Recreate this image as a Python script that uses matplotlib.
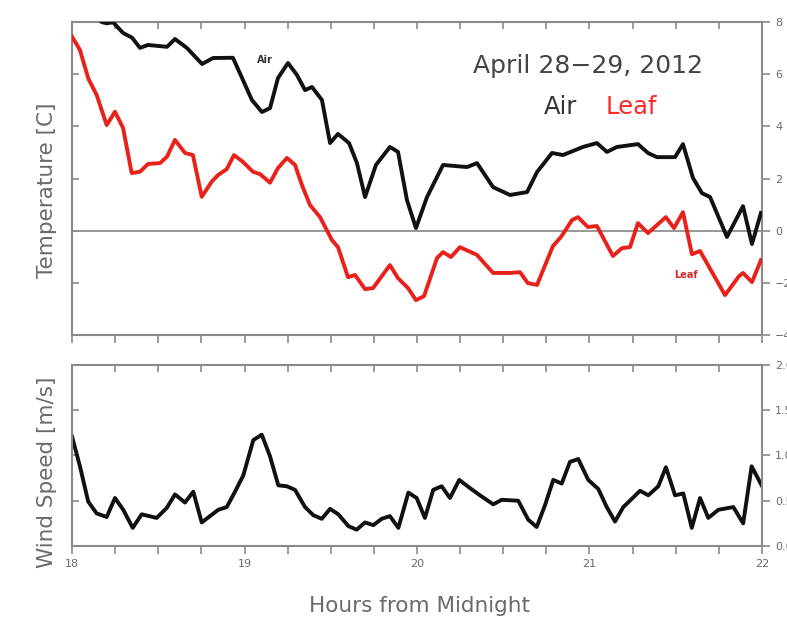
import numpy as np
import matplotlib
matplotlib.use('Agg')
import matplotlib.pyplot as plt
from matplotlib.ticker import MultipleLocator, FuncFormatter

# ---- data ----
air_hours = [18.00, 18.10, 18.172, 18.201, 18.238, 18.296, 18.348, 18.394, 18.441, 18.551,
             18.597, 18.667, 18.754, 18.817, 18.933, 18.986, 19.043, 19.101, 19.148, 19.194,
             19.252, 19.304, 19.351, 19.391, 19.449, 19.496, 19.542, 19.606, 19.652, 19.699,
             19.762, 19.843, 19.890, 19.942, 19.994, 20.058, 20.151, 20.290, 20.348, 20.441,
             20.539, 20.638, 20.696, 20.783, 20.846, 20.962, 21.043, 21.101, 21.159, 21.281,
             21.339, 21.391, 21.496, 21.542, 21.600, 21.652, 21.699, 21.797, 21.890, 21.942,
             21.994]
air_temp = [8.9, 8.4, 8.0, 7.95, 7.99, 7.58, 7.40, 7.01, 7.12, 7.05,
            7.35, 7.00, 6.39, 6.62, 6.63, 5.85, 5.01, 4.55, 4.70, 5.85,
            6.43, 5.97, 5.39, 5.51, 5.01, 3.36, 3.71, 3.36, 2.59, 1.29,
            2.52, 3.21, 3.02, 1.17, 0.10, 1.29, 2.52, 2.44, 2.59, 1.67,
            1.37, 1.48, 2.25, 2.98, 2.90, 3.21, 3.36, 3.02, 3.21, 3.32,
            2.98, 2.82, 2.82, 3.32, 2.02, 1.44, 1.29, -0.24, 0.94, -0.51,
            0.68]

leaf_hours = [18.00, 18.046, 18.094, 18.143, 18.201, 18.249, 18.296, 18.346, 18.394, 18.441,
              18.510, 18.551, 18.597, 18.655, 18.701, 18.752, 18.810, 18.846, 18.897, 18.939,
              18.991, 19.049, 19.090, 19.148, 19.194, 19.246, 19.293, 19.333, 19.380, 19.438,
              19.507, 19.542, 19.600, 19.641, 19.699, 19.745, 19.843, 19.890, 19.948, 19.994,
              20.041, 20.116, 20.151, 20.197, 20.249, 20.348, 20.441, 20.539, 20.597, 20.643,
              20.696, 20.788, 20.835, 20.899, 20.933, 20.991, 21.043, 21.136, 21.188, 21.235,
              21.281, 21.339, 21.443, 21.490, 21.542, 21.594, 21.641, 21.786, 21.867, 21.890,
              21.942, 21.994]
leaf_temp = [7.44, 6.93, 5.84, 5.20, 4.05, 4.56, 3.94, 2.21, 2.26, 2.56,
             2.59, 2.84, 3.48, 2.98, 2.90, 1.30, 1.88, 2.13, 2.36, 2.90,
             2.64, 2.26, 2.17, 1.84, 2.40, 2.79, 2.52, 1.75, 0.98, 0.52,
             -0.36, -0.63, -1.78, -1.70, -2.24, -2.20, -1.32, -1.82, -2.20, -2.66,
             -2.51, -1.05, -0.82, -1.01, -0.63, -0.93, -1.62, -1.62, -1.59, -2.01,
             -2.08, -0.59, -0.24, 0.41, 0.52, 0.14, 0.18, -0.97, -0.67, -0.63,
             0.29, -0.09, 0.52, 0.10, 0.71, -0.90, -0.78, -2.47, -1.74, -1.62,
             -1.97, -1.13]

wind_hours = [18.00, 18.046, 18.094, 18.143, 18.201, 18.249, 18.297, 18.352, 18.404, 18.491,
              18.549, 18.597, 18.655, 18.703, 18.752, 18.848, 18.897, 18.945, 18.993, 19.051,
              19.100, 19.148, 19.196, 19.245, 19.293, 19.351, 19.399, 19.448, 19.496, 19.544,
              19.602, 19.650, 19.699, 19.747, 19.795, 19.843, 19.892, 19.950, 19.998, 20.046,
              20.094, 20.143, 20.191, 20.245, 20.307, 20.365, 20.442, 20.491, 20.587, 20.645,
              20.694, 20.742, 20.790, 20.839, 20.887, 20.935, 20.993, 21.051, 21.100, 21.148,
              21.196, 21.245, 21.293, 21.341, 21.399, 21.443, 21.496, 21.544, 21.593, 21.641,
              21.689, 21.747, 21.834, 21.891, 21.940, 21.998]
wind_speed = [1.21, 0.88, 0.49, 0.36, 0.32, 0.53, 0.40, 0.20, 0.35, 0.31,
              0.42, 0.57, 0.48, 0.60, 0.26, 0.40, 0.43, 0.60, 0.78, 1.17,
              1.23, 0.99, 0.67, 0.66, 0.62, 0.43, 0.34, 0.30, 0.41, 0.35,
              0.22, 0.18, 0.26, 0.23, 0.30, 0.33, 0.20, 0.59, 0.53, 0.31,
              0.62, 0.66, 0.53, 0.73, 0.64, 0.56, 0.46, 0.51, 0.50, 0.29,
              0.21, 0.45, 0.73, 0.69, 0.93, 0.96, 0.73, 0.63, 0.43, 0.27,
              0.43, 0.52, 0.61, 0.56, 0.66, 0.87, 0.56, 0.58, 0.20, 0.53,
              0.31, 0.40, 0.43, 0.25, 0.88, 0.67]

spine_col = '#8a8a8a'
text_col = '#6a6a6a'

fig = plt.figure(figsize=(7.87, 6.17), dpi=100)
ax1 = fig.add_axes([0.0915, 0.457, 0.8767, 0.5073])
ax2 = fig.add_axes([0.0915, 0.1151, 0.8767, 0.2934])


def style_axes(ax, ystep):
    ax.set_xlim(18, 22)
    ax.xaxis.set_major_locator(MultipleLocator(1))
    ax.xaxis.set_minor_locator(MultipleLocator(0.25))
    ax.yaxis.set_major_locator(MultipleLocator(ystep))
    ax.yaxis.tick_right()
    ax.tick_params(axis='both', which='both', direction='out', length=6,
                   width=1.2, color=spine_col, labelcolor=text_col, labelsize=8)
    for s in ax.spines.values():
        s.set_color(spine_col)
        s.set_linewidth(1.5)
    # inward ticks on top and left
    top = ax.secondary_xaxis('top')
    top.xaxis.set_major_locator(MultipleLocator(0.25))
    top.tick_params(direction='in', length=5, width=1.2, color=spine_col, labeltop=False)
    top.spines['top'].set_visible(False)
    left = ax.secondary_yaxis('left')
    left.yaxis.set_major_locator(MultipleLocator(ystep))
    left.tick_params(direction='in', length=5, width=1.2, color=spine_col, labelleft=False)
    left.spines['left'].set_visible(False)


# ---- temperature panel ----
style_axes(ax1, 2)
ax1.set_ylim(-4, 8)
ax1.axhline(0, color='#909090', lw=1.3, zorder=1)
ax1.plot(air_hours, air_temp, color='#111111', lw=2.8, zorder=3)
ax1.plot(leaf_hours, leaf_temp, color='#e8221b', lw=2.8, zorder=3)
ax1.tick_params(axis='x', labelbottom=False)
ax1.set_ylabel('Temperature [C]', color=text_col, fontsize=15.5)
ax1.yaxis.set_label_position('left')
ax1.yaxis.set_label_coords(-0.022, 0.463)
ax1.text(19.12, 6.55, 'Air', fontsize=7, fontweight='bold', color='#333333', ha='center', va='center')
ax1.text(21.56, -1.68, 'Leaf', fontsize=7, fontweight='bold', color='#d42a2a', ha='center', va='center')
ax1.text(20.99, 6.33, 'April 28\u221229, 2012', fontsize=18, color='#444444', ha='center', va='center')
ax1.text(20.83, 4.75, 'Air', fontsize=17.5, color='#333333', ha='center', va='center')
ax1.text(21.24, 4.75, 'Leaf', fontsize=17.5, color='#ff2a2a', ha='center', va='center')

# ---- wind panel ----
style_axes(ax2, 0.5)
ax2.set_ylim(0, 2)
ax2.plot(wind_hours, wind_speed, color='#111111', lw=2.8)
ax2.yaxis.set_major_formatter(FuncFormatter(lambda v, p: f'{v:.1f}'))
ax2.xaxis.set_major_formatter(FuncFormatter(lambda v, p: f'{int(round(v))}'))
ax2.set_ylabel('Wind Speed [m/s]', color=text_col, fontsize=15.5)
ax2.yaxis.set_label_position('left')
ax2.yaxis.set_label_coords(-0.022, 0.41)
ax2.set_xlabel('Hours from Midnight', color=text_col, fontsize=15.5)
ax2.xaxis.set_label_coords(0.504, -0.275)

fig.savefig('out.png', dpi=100)
